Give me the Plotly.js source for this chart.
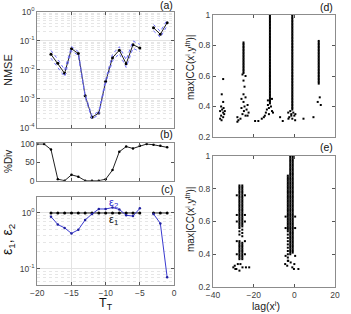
<!DOCTYPE html>
<html><head><meta charset="utf-8">
<script src="https://cdn.plot.ly/plotly-3.0.1.min.js"></script>
<style>html,body{margin:0;padding:0;background:#fff}#c{width:351px;height:314px}</style>
</head><body><div id="c"></div>
<script>
// ---- Panel (a): NMSE vs T_T ----
const tT = [-18,-17,-16,-15,-14,-13,-12,-11,-10,-9,-8,-7,-6,-5,-4,-3,-2,-1];
const nmse = [0.034,0.0166,0.0075,0.053,0.036,0.00126,0.00023,0.00032,0.0039,0.026,0.047,0.016,0.073,0.056,null,0.28,0.166,0.42];
const nmseUp = [0.046,0.023,0.0098,0.063,0.042,0.0014,0.00026,0.00037,0.0046,0.034,0.062,0.022,0.098,0.075,null,0.36,0.21,0.52];
const nmseLo = [0.025,0.012,0.0057,0.045,0.031,0.00112,0.0002,0.00028,0.0033,0.02,0.036,0.012,0.055,0.042,null,0.22,0.13,0.33];
// ---- Panel (b): %Div ----
const tB = [-20,-19,-18,-17,-16,-15,-14,-13,-12,-11,-10,-9,-8,-7,-6,-5,-4,-3,-2,-1];
const pctDiv = [100,100,85,4,0,16,11,0,0,0,4,29,79,93,88,95,100,98,95,91];
// ---- Panel (c): eps1, eps2 ----
const eps1 = [1,1,1,1,1,1,1,1,1,1,1,1,1,1,null,1,1,1];
const eps2 = [0.86,0.62,0.54,0.43,0.50,0.75,0.96,1.18,1.18,1.25,1.16,0.91,0.88,1.21,null,0.96,0.65,0.07];
// ---- Panel (d): max|CC| vs lag ----
const dLags = [-25,-12,-1,12];
const dDense = [
  [0.82,0.81,0.80,0.79,0.78,0.77,0.76,0.75,0.74,0.73,0.72,0.71,0.70,0.69,0.68,0.67,0.66,0.65,0.64,0.63,0.62],
  [1.00,0.99,0.98,0.97,0.96,0.95,0.94,0.93,0.92,0.91,0.90,0.89,0.88,0.87,0.86,0.85,0.84,0.83,0.82,0.81,0.80,0.79,0.78,0.77,0.76,0.75,0.74,0.73,0.72,0.71,0.70,0.69,0.68,0.67,0.66,0.65,0.64,0.63,0.62,0.61,0.60,0.59,0.58,0.57,0.56,0.55,0.54,0.53,0.52,0.51,0.50,0.49,0.48,0.47,0.46,0.45,0.44,0.43,0.42],
  [1.00,0.99,0.98,0.97,0.96,0.95,0.94,0.93,0.92,0.91,0.90,0.89,0.88,0.87,0.86,0.85,0.84,0.83,0.82,0.81,0.80,0.79,0.78,0.77,0.76,0.75,0.74,0.73,0.72,0.71,0.70,0.69,0.68,0.67,0.66,0.65,0.64,0.63,0.62,0.61,0.60,0.59,0.58,0.57,0.56,0.55,0.54,0.53,0.52,0.51,0.50,0.49,0.48,0.47,0.46,0.45,0.44,0.43,0.42,0.41,0.40,0.39,0.38],
  [0.83,0.82,0.81,0.80,0.79,0.78,0.77,0.76,0.75,0.74,0.73,0.72,0.71,0.70,0.69,0.68,0.67,0.66,0.65,0.64,0.63,0.62,0.61,0.60,0.59,0.58,0.57,0.56,0.55]
];
const dScatX = [-35,-35.7,-35,-36,-35.5,-36.5,-35,-34.5,-36,-35,-36.5,-35.8,-34.2,-34.8,
  -25.5,-24,-25,-24.5,-25,-24,-26,-25,-23,-24.5,-26,-23.5,-24.8,-22.5,-25.5,-24,-28,-26.5,-27.5,-28,-23,
  -13,-11.5,-12.5,-13.5,-11,-14,-12.5,-14.5,-15,-16,-10.5,-11,-13,
  -2,-0.5,-1.5,0,-2.5,-1,-3,0.5,-1.5,
  12.5,11.5,13,
  -19.3,-17.7,-7,-5.7,-2.9,0.4,4.5,9.4];
const dScatY = [0.58,0.48,0.43,0.40,0.38,0.37,0.36,0.35,0.34,0.33,0.32,0.31,0.37,0.39,
  0.61,0.60,0.57,0.53,0.48,0.46,0.45,0.43,0.41,0.40,0.39,0.38,0.37,0.36,0.35,0.34,0.33,0.32,0.31,0.30,0.34,
  0.41,0.40,0.39,0.38,0.37,0.36,0.35,0.34,0.33,0.32,0.36,0.45,0.44,
  0.37,0.36,0.35,0.34,0.33,0.32,0.36,0.35,0.34,
  0.46,0.43,0.41,
  0.305,0.305,0.33,0.305,0.32,0.31,0.32,0.33];
// ---- Panel (e): max|CC| vs lag ----
const eLags = [-27,-25.6,-3.2,-2,-0.8];
const eDense = [
  [0.82,0.81,0.80,0.79,0.78,0.77,0.76,0.75,0.74,0.73,0.72,0.71,0.70,0.69,0.68,0.67,0.66,0.65,0.64,0.63,0.62,0.61,0.60,0.59,0.58,0.57,0.56,0.54,0.52,0.48,0.47,0.46,0.45,0.44,0.43,0.42,0.41,0.40,0.39,0.38,0.37],
  [0.82,0.81,0.80,0.79,0.78,0.77,0.76,0.75,0.74,0.73,0.72,0.71,0.70,0.69,0.68,0.67,0.66,0.65,0.64,0.63,0.62,0.61,0.60,0.59,0.58,0.57,0.55,0.53,0.51,0.47,0.46,0.45,0.44,0.43,0.42,0.41,0.40,0.39,0.38,0.37],
  [0.88,0.87,0.86,0.85,0.84,0.83,0.82,0.81,0.80,0.79,0.78,0.77,0.76,0.75,0.74,0.73,0.72,0.71,0.70,0.69,0.68,0.67,0.66,0.65,0.64,0.63,0.62,0.61,0.60,0.59,0.58,0.57,0.56,0.55,0.54,0.52,0.50,0.48,0.46,0.44,0.42,0.40,0.38,0.36],
  [1.00,0.99,0.98,0.97,0.96,0.95,0.94,0.93,0.92,0.91,0.90,0.89,0.88,0.87,0.86,0.85,0.84,0.83,0.82,0.81,0.80,0.79,0.78,0.77,0.76,0.75,0.74,0.73,0.72,0.71,0.70,0.69,0.68,0.67,0.66,0.65,0.64,0.63,0.62,0.61,0.60,0.59,0.58,0.57,0.56,0.55,0.54,0.53,0.52,0.51,0.50,0.49,0.48,0.47,0.46,0.45,0.44,0.43,0.42,0.41,0.40],
  [1.00,0.99,0.98,0.97,0.96,0.95,0.94,0.93,0.92,0.91,0.90,0.89,0.88,0.87,0.86,0.85,0.84,0.83,0.82,0.81,0.80,0.79,0.78,0.77,0.76,0.75,0.74,0.73,0.72,0.71,0.70,0.69,0.68,0.67,0.66,0.65,0.64,0.63,0.62,0.61,0.60,0.59,0.58,0.57,0.56,0.55,0.54,0.53,0.52,0.51,0.50,0.49,0.48,0.47,0.46,0.45,0.44,0.43,0.42,0.41]
];
const eScatX = [-28.3,-24.3,-28.3,-24.3,-28.3,-24.3,-28.3,-24.3,-28.3,-24.3,
  -30,-29.3,-28.5,-27.8,-27,-25.5,-23.8,-22.2,-26.5,-29,
  -4.3,0.4,-4.3,0.4,-4.3,0.4,
  -4.5,-3.5,-1,0,2,-1.8,-3,-0.2];
const eScatY = [0.76,0.76,0.64,0.64,0.60,0.60,0.48,0.48,0.40,0.40,
  0.32,0.33,0.31,0.34,0.30,0.32,0.32,0.32,0.34,0.31,
  0.63,0.63,0.56,0.56,0.39,0.39,
  0.34,0.33,0.32,0.34,0.31,0.35,0.36,0.31];

// ---------- build traces ----------
const blk = '#000000', lblu = '#6f6fff';
const traces = [];
traces.push({x:tT,y:nmse,xaxis:'x',yaxis:'y',mode:'lines+markers',line:{color:'#222',width:1},marker:{color:blk,size:3}});
traces.push({x:tT,y:nmseUp,xaxis:'x',yaxis:'y',mode:'lines',line:{color:lblu,width:1,dash:'dot'},hoverinfo:'skip'});
traces.push({x:tT,y:nmseLo,xaxis:'x',yaxis:'y',mode:'lines',line:{color:lblu,width:1,dash:'dot'},hoverinfo:'skip'});
traces.push({x:tB,y:pctDiv,xaxis:'x2',yaxis:'y2',mode:'lines+markers',line:{color:'#222',width:1},marker:{color:blk,size:2.5}});
traces.push({x:tT,y:eps1,xaxis:'x3',yaxis:'y3',mode:'lines+markers',line:{color:'#222',width:1},marker:{color:blk,size:3}});
traces.push({x:tT,y:eps2,xaxis:'x3',yaxis:'y3',mode:'lines+markers',line:{color:'#3a3ad0',width:1},marker:{color:'#2020a0',size:2.5}});
const mk = {color:blk,size:2,symbol:'square'};
dLags.forEach((lag,i)=>traces.push({x:dDense[i].map(()=>lag),y:dDense[i],xaxis:'x4',yaxis:'y4',mode:'markers',marker:mk}));
traces.push({x:dScatX,y:dScatY,xaxis:'x4',yaxis:'y4',mode:'markers',marker:mk});
eLags.forEach((lag,i)=>traces.push({x:eDense[i].map(()=>lag),y:eDense[i],xaxis:'x5',yaxis:'y5',mode:'markers',marker:mk}));
traces.push({x:eScatX,y:eScatY,xaxis:'x5',yaxis:'y5',mode:'markers',marker:mk});

// ---------- layout ----------
const W=351,H=314;
const px = v=>v/W, py = v=>1-v/H;
const tf = {family:'Liberation Sans, Arial, sans-serif',size:8.5,color:'#404040'};
const frame = {showline:true,mirror:'ticks',linecolor:'#8c8c8c',linewidth:1,ticks:'inside',ticklen:3,tickcolor:'#555',tickfont:tf,zeroline:false};
function minorLog(lo,hi){const a=[];for(let e=lo;e<hi;e++){for(let m=2;m<=9;m++)a.push(m*Math.pow(10,e));}return a;}
const xdomL=[px(37.3),px(174)], xdomR=[px(213),px(335)];
function ann(text,x,y,opts){return Object.assign({text:text,x:px(x),y:py(y),xref:'paper',yref:'paper',xanchor:'center',yanchor:'middle',showarrow:false},opts);}
const layout = {
  width:W,height:H,margin:{l:0,r:0,t:0,b:0},showlegend:false,
  paper_bgcolor:'#fff',plot_bgcolor:'#fff',
  font:{family:'Liberation Sans, Arial, sans-serif'},
  xaxis:Object.assign({},frame,{domain:xdomL,anchor:'y',range:[-20,0],tickvals:[-20,-15,-10,-5,0],showticklabels:false,showgrid:true,gridcolor:'#e3e3e3'}),
  yaxis:Object.assign({},frame,{domain:[py(127.7),py(11.7)],anchor:'x',type:'log',range:[-4,0],
    tickvals:[1e-4,1e-3,1e-2,1e-1,1],ticktext:['10<sup>-4</sup>','10<sup>-3</sup>','10<sup>-2</sup>','10<sup>-1</sup>','10<sup>0</sup>'],
    showgrid:true,gridcolor:'#e3e3e3',minor:{tickmode:'array',tickvals:minorLog(-4,0),showgrid:true,gridcolor:'#e6e6e6',griddash:'dot',ticks:''}}),
  xaxis2:Object.assign({},frame,{domain:xdomL,anchor:'y2',range:[-20,0],tickvals:[-20,-15,-10,-5,0],showticklabels:false,showgrid:true,gridcolor:'#e3e3e3'}),
  yaxis2:Object.assign({},frame,{domain:[py(180.7),py(143.3)],anchor:'x2',range:[0,102],tickvals:[0,50,100],showgrid:false}),
  xaxis3:Object.assign({},frame,{domain:xdomL,anchor:'y3',range:[-20,0],tickvals:[-20,-15,-10,-5,0],showgrid:true,gridcolor:'#e3e3e3',ticklabelstandoff:0}),
  yaxis3:Object.assign({},frame,{domain:[py(285),py(197)],anchor:'x3',type:'log',range:[-1.293,0.287],
    tickvals:[0.1,1],ticktext:['10<sup>-1</sup>','10<sup>0</sup>'],showgrid:true,gridcolor:'#e3e3e3',
    minor:{tickmode:'array',tickvals:[0.06,0.07,0.08,0.09,0.2,0.3,0.4,0.5,0.6,0.7,0.8,0.9],showgrid:true,gridcolor:'#e6e6e6',griddash:'dot',ticks:''}}),
  xaxis4:Object.assign({},frame,{domain:xdomR,anchor:'y4',range:[-40,20],tickvals:[-40,-20,0,20],showticklabels:false,showgrid:false}),
  yaxis4:Object.assign({},frame,{domain:[py(137),py(15)],anchor:'x4',range:[0.2,1],tickvals:[0.2,0.4,0.6,0.8,1],ticktext:['0.2','0.4','0.6','0.8','1'],showgrid:false}),
  xaxis5:Object.assign({},frame,{domain:xdomR,anchor:'y5',range:[-40,20],tickvals:[-40,-20,0,20],showgrid:false,ticklabelstandoff:0}),
  yaxis5:Object.assign({},frame,{domain:[py(287),py(156)],anchor:'x5',range:[0.2,1],tickvals:[0.2,0.4,0.6,0.8,1],ticktext:['0.2','0.4','0.6','0.8','1'],showgrid:false}),
  annotations:[
    ann('NMSE',8,70,{textangle:-90,font:{size:11,color:'#222'}}),
    ann('%Div',8,162,{textangle:-90,font:{size:10,color:'#222'}}),
    ann('ε<sub>1</sub>, ε<sub>2</sub>',8,240,{textangle:-90,font:{size:14,color:'#111'}}),
    ann('T<sub>T</sub>',105.5,314,{yanchor:'bottom',font:{size:12.5,color:'#111'}}),
    ann('lag(x<sup>i</sup>)',266,314,{yanchor:'bottom',font:{size:10.5,color:'#222'}}),
    ann('max|CC(x<sup>i</sup>,y<sup>th</sup>)|',190,68,{textangle:-90,font:{size:10,color:'#222'}}),
    ann('max|CC(x<sup>i</sup>,y<sup>th</sup>)|',190,220,{textangle:-90,font:{size:10,color:'#222'}}),
    ann('(a)',175,5,{xanchor:'right',font:{size:10.5,color:'#111'}}),
    ann('(b)',175,134,{xanchor:'right',font:{size:10.5,color:'#111'}}),
    ann('(c)',175,189,{xanchor:'right',font:{size:10.5,color:'#111'}}),
    ann('(d)',335,7,{xanchor:'right',font:{size:10.5,color:'#111'}}),
    ann('(e)',335,147,{xanchor:'right',font:{size:10.5,color:'#111'}}),
    ann('ε<sub>2</sub>',113,203,{font:{size:11,color:'#2b2bd0'}}),
    ann('ε<sub>1</sub>',113,220,{font:{size:11,color:'#111'}})
  ]
};
Plotly.newPlot('c',traces,layout,{staticPlot:true,displayModeBar:false});
</script></body></html>
